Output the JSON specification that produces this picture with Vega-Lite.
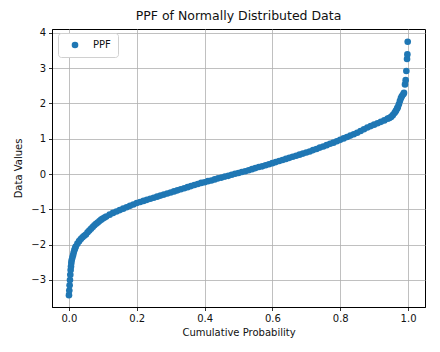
{
  "$schema": "https://vega.github.io/schema/vega-lite/v6.json",
  "width": 373,
  "height": 278,
  "autosize": {"type": "none"},
  "padding": {"left": 52, "top": 29, "right": 15, "bottom": 45},
  "background": "white",
  "title": {"text": "PPF of Normally Distributed Data", "fontSize": 12.5, "font": "DejaVu Sans", "fontWeight": "normal", "color": "#111", "offset": 5},
  "data": {"values": [
    {"p":0.000,"v":-3.43,"s":"PPF"},{"p":0.001,"v":-3.30,"s":"PPF"},{"p":0.002,"v":-3.15,"s":"PPF"},{"p":0.003,"v":-3.00,"s":"PPF"},
    {"p":0.004,"v":-2.85,"s":"PPF"},{"p":0.005,"v":-2.72,"s":"PPF"},{"p":0.006,"v":-2.62,"s":"PPF"},{"p":0.007,"v":-2.52,"s":"PPF"},
    {"p":0.008,"v":-2.44,"s":"PPF"},{"p":0.010,"v":-2.37,"s":"PPF"},{"p":0.012,"v":-2.30,"s":"PPF"},{"p":0.014,"v":-2.22,"s":"PPF"},
    {"p":0.016,"v":-2.16,"s":"PPF"},{"p":0.018,"v":-2.10,"s":"PPF"},{"p":0.020,"v":-2.05,"s":"PPF"},{"p":0.025,"v":-1.97,"s":"PPF"},
    {"p":0.030,"v":-1.90,"s":"PPF"},{"p":0.035,"v":-1.84,"s":"PPF"},{"p":0.040,"v":-1.79,"s":"PPF"},{"p":0.045,"v":-1.75,"s":"PPF"},
    {"p":0.050,"v":-1.71,"s":"PPF"},{"p":0.055,"v":-1.65,"s":"PPF"},{"p":0.060,"v":-1.60,"s":"PPF"},{"p":0.065,"v":-1.55,"s":"PPF"},
    {"p":0.070,"v":-1.50,"s":"PPF"},{"p":0.075,"v":-1.45,"s":"PPF"},{"p":0.080,"v":-1.41,"s":"PPF"},{"p":0.085,"v":-1.37,"s":"PPF"},
    {"p":0.090,"v":-1.33,"s":"PPF"},{"p":0.095,"v":-1.29,"s":"PPF"},{"p":0.100,"v":-1.26,"s":"PPF"},{"p":0.105,"v":-1.23,"s":"PPF"},
    {"p":0.110,"v":-1.20,"s":"PPF"},{"p":0.120,"v":-1.15,"s":"PPF"},
    {"p":0.130,"v":-1.10,"s":"PPF"},{"p":0.140,"v":-1.06,"s":"PPF"},{"p":0.150,"v":-1.02,"s":"PPF"},{"p":0.160,"v":-0.98,"s":"PPF"},
    {"p":0.170,"v":-0.94,"s":"PPF"},{"p":0.180,"v":-0.90,"s":"PPF"},{"p":0.190,"v":-0.86,"s":"PPF"},{"p":0.200,"v":-0.82,"s":"PPF"},
    {"p":0.21,"v":-0.79,"s":"PPF"},{"p":0.22,"v":-0.76,"s":"PPF"},{"p":0.23,"v":-0.73,"s":"PPF"},{"p":0.24,"v":-0.70,"s":"PPF"},
    {"p":0.25,"v":-0.67,"s":"PPF"},{"p":0.26,"v":-0.64,"s":"PPF"},{"p":0.27,"v":-0.61,"s":"PPF"},{"p":0.28,"v":-0.58,"s":"PPF"},
    {"p":0.29,"v":-0.55,"s":"PPF"},{"p":0.30,"v":-0.52,"s":"PPF"},{"p":0.31,"v":-0.49,"s":"PPF"},{"p":0.32,"v":-0.46,"s":"PPF"},
    {"p":0.33,"v":-0.43,"s":"PPF"},{"p":0.34,"v":-0.40,"s":"PPF"},{"p":0.35,"v":-0.37,"s":"PPF"},{"p":0.36,"v":-0.34,"s":"PPF"},
    {"p":0.37,"v":-0.31,"s":"PPF"},{"p":0.38,"v":-0.28,"s":"PPF"},{"p":0.39,"v":-0.25,"s":"PPF"},{"p":0.40,"v":-0.23,"s":"PPF"},
    {"p":0.41,"v":-0.20,"s":"PPF"},{"p":0.42,"v":-0.18,"s":"PPF"},{"p":0.43,"v":-0.15,"s":"PPF"},{"p":0.44,"v":-0.12,"s":"PPF"},
    {"p":0.45,"v":-0.10,"s":"PPF"},{"p":0.46,"v":-0.07,"s":"PPF"},{"p":0.47,"v":-0.05,"s":"PPF"},{"p":0.48,"v":-0.02,"s":"PPF"},
    {"p":0.49,"v":0.01,"s":"PPF"},{"p":0.50,"v":0.03,"s":"PPF"},{"p":0.51,"v":0.06,"s":"PPF"},{"p":0.52,"v":0.08,"s":"PPF"},
    {"p":0.53,"v":0.11,"s":"PPF"},{"p":0.54,"v":0.14,"s":"PPF"},{"p":0.55,"v":0.17,"s":"PPF"},{"p":0.56,"v":0.20,"s":"PPF"},
    {"p":0.57,"v":0.22,"s":"PPF"},{"p":0.58,"v":0.25,"s":"PPF"},{"p":0.59,"v":0.28,"s":"PPF"},{"p":0.60,"v":0.31,"s":"PPF"},
    {"p":0.61,"v":0.34,"s":"PPF"},{"p":0.62,"v":0.37,"s":"PPF"},{"p":0.63,"v":0.40,"s":"PPF"},{"p":0.64,"v":0.43,"s":"PPF"},
    {"p":0.65,"v":0.46,"s":"PPF"},{"p":0.66,"v":0.49,"s":"PPF"},{"p":0.67,"v":0.52,"s":"PPF"},{"p":0.68,"v":0.55,"s":"PPF"},
    {"p":0.69,"v":0.58,"s":"PPF"},{"p":0.70,"v":0.61,"s":"PPF"},{"p":0.71,"v":0.64,"s":"PPF"},{"p":0.72,"v":0.68,"s":"PPF"},
    {"p":0.73,"v":0.71,"s":"PPF"},{"p":0.74,"v":0.75,"s":"PPF"},{"p":0.75,"v":0.78,"s":"PPF"},{"p":0.76,"v":0.82,"s":"PPF"},
    {"p":0.77,"v":0.86,"s":"PPF"},{"p":0.78,"v":0.89,"s":"PPF"},{"p":0.79,"v":0.93,"s":"PPF"},{"p":0.80,"v":0.97,"s":"PPF"},
    {"p":0.81,"v":1.01,"s":"PPF"},{"p":0.82,"v":1.05,"s":"PPF"},{"p":0.83,"v":1.09,"s":"PPF"},{"p":0.84,"v":1.13,"s":"PPF"},
    {"p":0.85,"v":1.17,"s":"PPF"},{"p":0.86,"v":1.22,"s":"PPF"},{"p":0.87,"v":1.27,"s":"PPF"},{"p":0.88,"v":1.32,"s":"PPF"},
    {"p":0.89,"v":1.36,"s":"PPF"},{"p":0.90,"v":1.40,"s":"PPF"},{"p":0.91,"v":1.44,"s":"PPF"},{"p":0.92,"v":1.48,"s":"PPF"},
    {"p":0.93,"v":1.52,"s":"PPF"},{"p":0.94,"v":1.57,"s":"PPF"},{"p":0.945,"v":1.59,"s":"PPF"},{"p":0.95,"v":1.62,"s":"PPF"},{"p":0.955,"v":1.67,"s":"PPF"},
    {"p":0.96,"v":1.73,"s":"PPF"},{"p":0.963,"v":1.77,"s":"PPF"},{"p":0.965,"v":1.81,"s":"PPF"},{"p":0.968,"v":1.86,"s":"PPF"},{"p":0.970,"v":1.90,"s":"PPF"},{"p":0.973,"v":1.98,"s":"PPF"},
    {"p":0.976,"v":2.07,"s":"PPF"},{"p":0.979,"v":2.15,"s":"PPF"},{"p":0.982,"v":2.21,"s":"PPF"},{"p":0.986,"v":2.26,"s":"PPF"},
    {"p":0.988,"v":2.30,"s":"PPF"},{"p":0.991,"v":2.54,"s":"PPF"},{"p":0.993,"v":2.66,"s":"PPF"},{"p":0.995,"v":2.92,"s":"PPF"},
    {"p":0.997,"v":3.26,"s":"PPF"},{"p":0.998,"v":3.39,"s":"PPF"},{"p":0.999,"v":3.75,"s":"PPF"}
  ]},
  "mark": {"type": "point", "filled": true, "opacity": 1, "size": 44},
  "encoding": {
    "x": {"field": "p", "type": "quantitative", "title": "Cumulative Probability",
      "scale": {"domain": [-0.05, 1.05], "nice": false, "zero": false},
      "axis": {"values": [0, 0.2, 0.4, 0.6, 0.8, 1.0], "format": ".1f"}},
    "y": {"field": "v", "type": "quantitative", "title": "Data Values",
      "scale": {"domain": [-3.765, 4.11], "nice": false, "zero": false},
      "axis": {"values": [-3, -2, -1, 0, 1, 2, 3, 4], "format": "d", "labelExpr": "replace(datum.label, '-', '\u2212')", "titlePadding": 7}},
    "color": {"field": "s", "type": "nominal", "title": null,
      "scale": {"range": ["#1f77b4"]},
      "legend": {"orient": "none", "legendX": 6, "legendY": 4, "symbolType": "circle", "symbolSize": 44,
        "strokeColor": "#d0d0d0", "fillColor": "white", "cornerRadius": 3, "padding": 7,
        "labelFontSize": 10, "labelFont": "DejaVu Sans", "labelColor": "#111", "labelOffset": 13, "symbolOffset": 5}}
  },
  "config": {
    "font": "DejaVu Sans",
    "view": {"stroke": "black", "strokeWidth": 1},
    "axis": {
      "domainColor": "black", "domainWidth": 1,
      "tickColor": "black", "tickSize": 3.5, "tickWidth": 0.8,
      "grid": true, "gridColor": "#b0b0b0", "gridWidth": 0.8,
      "labelFont": "DejaVu Sans", "labelFontSize": 10, "labelColor": "#111", "labelPadding": 3,
      "titleFont": "DejaVu Sans", "titleFontSize": 10, "titleFontWeight": "normal", "titleColor": "#111", "titlePadding": 4
    }
  }
}
